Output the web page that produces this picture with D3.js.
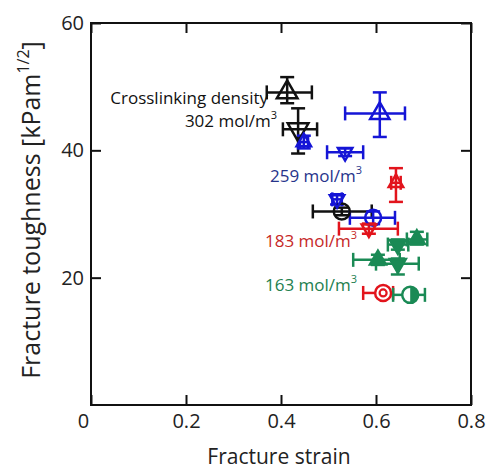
<!DOCTYPE html>
<html><head><meta charset="utf-8">
<script src="https://cdn.jsdelivr.net/npm/d3@7"></script>
<style>body{margin:0;background:#fff}svg{display:block}text{font-family:"Open Sans",sans-serif}</style>
</head><body><svg id="c" width="489" height="470"></svg>
<script>
// ---- data ----
const xTicks = [0, 0.2, 0.4, 0.6, 0.8];
const yTicks = [20, 40, 60];
const seriesNames = ["302 mol/m", "259 mol/m", "183 mol/m", "163 mol/m"];
const seriesColors = ["#111111", "#1515d6", "#e2141c", "#1a8a55"];
const labelColors = ["#111111", "#27348b", "#c62828", "#23804f"];

const blackStrain = [0.413, 0.436, 0.528];
const blackTough = [49.1, 43.3, 30.4];
const blackStrainLo = [0.370, 0.404, 0.467];
const blackStrainHi = [0.465, 0.476, 0.591];
const blackToughLo = [47.4, 39.5, 29.8];
const blackToughHi = [51.5, 46.6, 31.0];
const blackMarker = ["up", "down", "circle"];

const blueStrain = [0.608, 0.448, 0.535, 0.518, 0.594];
const blueTough = [45.8, 41.3, 39.7, 32.3, 29.4];
const blueStrainLo = [0.535, 0.440, 0.497, 0.508, 0.545];
const blueStrainHi = [0.661, 0.457, 0.573, 0.528, 0.640];
const blueToughLo = [42.1, 40.3, 39.1, 31.5, 28.4];
const blueToughHi = [49.1, 42.3, 40.3, 33.1, 30.4];
const blueMarker = ["upL", "up", "down", "down", "circle"];

const redStrain = [0.642, 0.585, 0.615];
const redTough = [34.9, 27.7, 17.6];
const redStrainLo = [0.632, 0.522, 0.573];
const redStrainHi = [0.652, 0.646, 0.636];
const redToughLo = [31.9, 26.9, 17.0];
const redToughHi = [37.2, 28.5, 18.2];
const redMarker = ["up", "down", "ring"];

const greenStrain = [0.672, 0.604, 0.646, 0.646, 0.686];
const greenTough = [17.3, 22.8, 22.2, 25.2, 26.0];
const greenStrainLo = [0.636, 0.552, 0.600, 0.625, 0.665];
const greenStrainHi = [0.703, 0.650, 0.690, 0.668, 0.708];
const greenToughLo = [16.7, 22.0, 20.5, 24.4, 25.2];
const greenToughHi = [17.9, 23.6, 23.0, 26.0, 27.2];
const greenMarker = ["half", "upF", "downF", "downF", "upF"];

// ---- build ----
function pts(s, t, sl, sh, tl, th, m, ci) {
  return s.map((v, i) => ({x: v, y: t[i], xl: sl[i], xh: sh[i], yl: tl[i], yh: th[i], m: m[i], c: ci}));
}
const groups = [
  pts(blackStrain, blackTough, blackStrainLo, blackStrainHi, blackToughLo, blackToughHi, blackMarker, 0),
  pts(blueStrain, blueTough, blueStrainLo, blueStrainHi, blueToughLo, blueToughHi, blueMarker, 1),
  pts(redStrain, redTough, redStrainLo, redStrainHi, redToughLo, redToughHi, redMarker, 2),
  pts(greenStrain, greenTough, greenStrainLo, greenStrainHi, greenToughLo, greenToughHi, greenMarker, 3)
];

const L = 91, R = 471, T = 23, B = 405;
const x = d3.scaleLinear().domain([0, 0.8]).range([L, R]);
const y = d3.scaleLinear().domain([0, 60]).range([B, T]);
const svg = d3.select("#c");

// axes
const fs = 20;
const gx = svg.append("g").attr("transform", `translate(0,${B})`)
  .call(d3.axisBottom(x).tickValues(xTicks).tickSize(-10).tickPadding(9).tickFormat(d => d === 0 ? "0" : d3.format(".1f")(d)));
const gy = svg.append("g").attr("transform", `translate(${L},0)`)
  .call(d3.axisLeft(y).tickValues(yTicks).tickSize(-10).tickPadding(7).tickFormat(d3.format("d")));
const gt = svg.append("g").attr("transform", `translate(0,${T})`)
  .call(d3.axisTop(x).tickValues(xTicks).tickSize(-10).tickFormat(""));
const gr = svg.append("g").attr("transform", `translate(${R},0)`)
  .call(d3.axisRight(y).tickValues(yTicks).tickSize(-10).tickFormat(""));
[gx, gy, gt, gr].forEach(g => {
  g.select(".domain").remove();
  g.selectAll("line").attr("stroke", "#111").attr("stroke-width", 2);
  g.selectAll("text").attr("font-size", fs).attr("fill", "#222").attr("font-family", "Open Sans, sans-serif");
});
gx.selectAll(".tick").filter(d => d === 0).select("text").attr("x", -8);
svg.append("rect").attr("x", L).attr("y", T).attr("width", R - L).attr("height", B - T)
  .attr("fill", "none").attr("stroke", "#111").attr("stroke-width", 2);

// axis titles
svg.append("text").attr("x", (L + R) / 2 - 2).attr("y", 464).attr("text-anchor", "middle")
  .attr("font-size", 21).attr("fill", "#222").text("Fracture strain");
const yt = svg.append("text").attr("transform", "translate(40,210) rotate(-90)").attr("text-anchor", "middle")
  .attr("font-size", 25).attr("fill", "#222");
yt.append("tspan").text("Fracture toughness [kPam");
yt.append("tspan").attr("font-size", 16).attr("dy", -11).text("1/2");
yt.append("tspan").attr("dy", 11).text("]");

// data layer
const plot = svg.append("g");
const cap = 7;
const all = groups.flat();
all.forEach(d => {
  const col = seriesColors[d.c];
  const g = plot.append("g").attr("stroke", col).attr("stroke-width", 2.5).attr("fill", "none");
  g.append("line").attr("x1", x(d.xl)).attr("x2", x(d.xh)).attr("y1", y(d.y)).attr("y2", y(d.y));
  g.append("line").attr("x1", x(d.xl)).attr("x2", x(d.xl)).attr("y1", y(d.y) - cap).attr("y2", y(d.y) + cap);
  g.append("line").attr("x1", x(d.xh)).attr("x2", x(d.xh)).attr("y1", y(d.y) - cap).attr("y2", y(d.y) + cap);
  g.append("line").attr("x1", x(d.x)).attr("x2", x(d.x)).attr("y1", y(d.yl)).attr("y2", y(d.yh));
  g.append("line").attr("x1", x(d.x) - cap).attr("x2", x(d.x) + cap).attr("y1", y(d.yl)).attr("y2", y(d.yl));
  g.append("line").attr("x1", x(d.x) - cap).attr("x2", x(d.x) + cap).attr("y1", y(d.yh)).attr("y2", y(d.yh));
});
all.forEach(d => {
  const col = seriesColors[d.c];
  const cx = x(d.x), cy = y(d.y);
  const g = plot.append("g").attr("transform", `translate(${cx},${cy})`);
  const size = d.c === 0 ? 185 : d.m === "upL" ? 160 : d.c === 3 ? 110 : 90;
  if (d.m.startsWith("up") || d.m.startsWith("down")) {
    const filled = d.m.endsWith("F");
    g.append("path").attr("d", d3.symbol(d3.symbolTriangle, size)())
      .attr("transform", d.m.startsWith("down") ? "rotate(180)" : null)
      .attr("fill", filled ? col : "none").attr("stroke", col).attr("stroke-width", 2.5)
      .attr("stroke-linejoin", "miter");
  } else if (d.m === "circle") {
    g.append("circle").attr("r", 8).attr("fill", "none").attr("stroke", col).attr("stroke-width", 2.5);
  } else if (d.m === "ring") {
    g.append("circle").attr("r", 8).attr("fill", "#fff").attr("stroke", col).attr("stroke-width", 2.5);
    g.append("circle").attr("r", 3.5).attr("fill", "none").attr("stroke", col).attr("stroke-width", 2.2);
  } else if (d.m === "half") {
    g.append("circle").attr("r", 8).attr("fill", "#fff").attr("stroke", col).attr("stroke-width", 2.5);
    g.append("path").attr("d", d3.arc()({innerRadius: 0, outerRadius: 8, startAngle: 0, endAngle: Math.PI}))
      .attr("fill", col);
  }
});

// labels
const lab = [
  {x: 277, y: 127, c: 0, anchor: "end"},
  {x: 270, y: 182, c: 1, anchor: "start"},
  {x: 265, y: 247, c: 2, anchor: "start"},
  {x: 265, y: 291, c: 3, anchor: "start"}
];
svg.append("text").attr("x", 268).attr("y", 104).attr("text-anchor", "end")
  .attr("font-size", 17).attr("fill", "#111").text("Crosslinking density");
lab.forEach(l => {
  const t = svg.append("text").attr("x", l.x).attr("y", l.y).attr("text-anchor", l.anchor)
    .attr("font-size", 17).attr("fill", labelColors[l.c]);
  t.append("tspan").text(seriesNames[l.c]);
  t.append("tspan").attr("font-size", 11).attr("dy", -8).text("3");
});
</script></body></html>
